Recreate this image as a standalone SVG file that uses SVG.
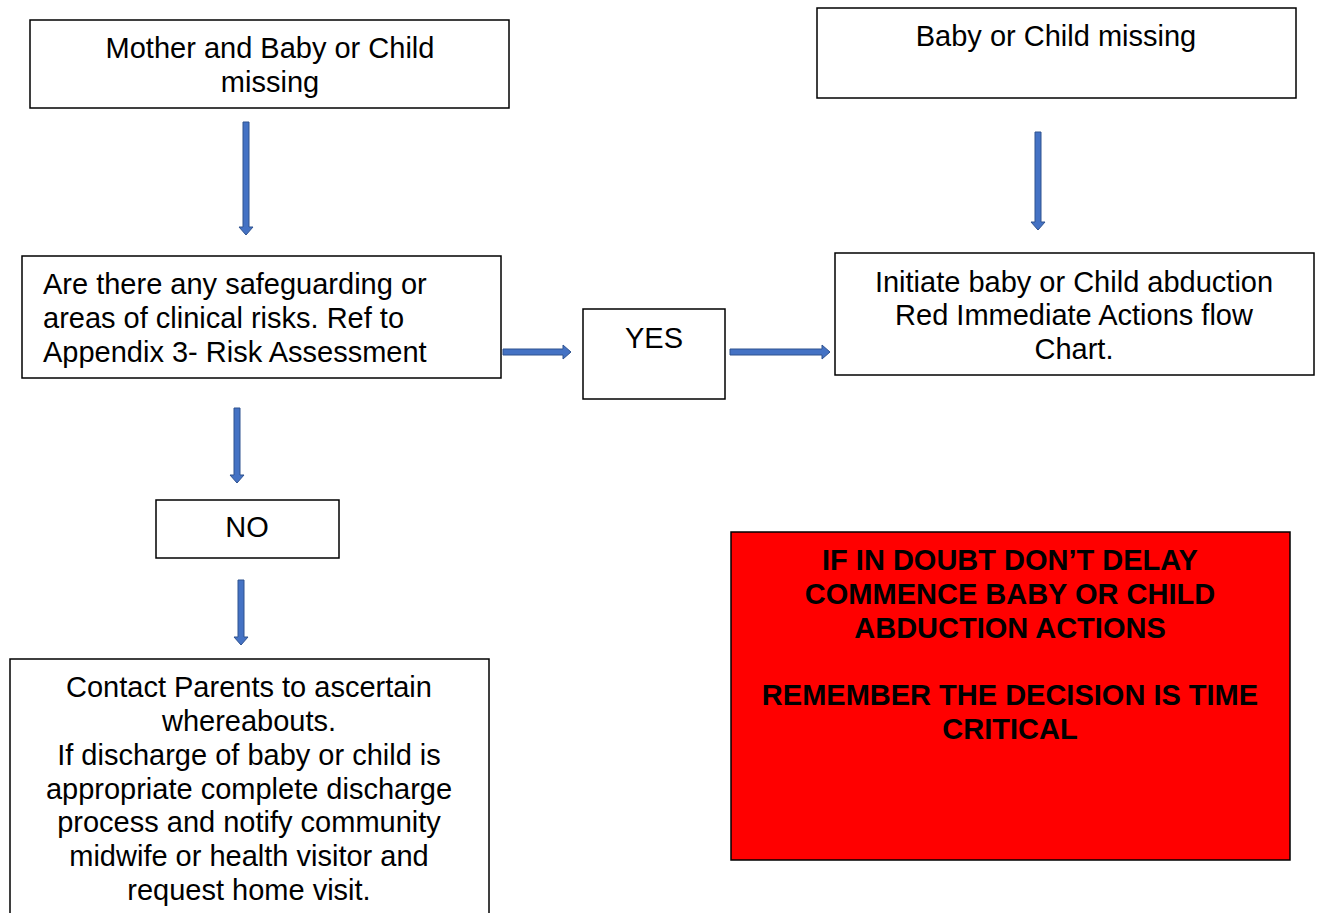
<svg xmlns="http://www.w3.org/2000/svg" width="1322" height="913" viewBox="0 0 1322 913">
<style>
.box{fill:#fff;stroke:#000;stroke-width:1.5}
.red{fill:#ff0000;stroke:#000;stroke-width:1.5}
.t{font-family:"Liberation Sans",Arial,sans-serif;font-size:29px;fill:#000}
.c{text-anchor:middle}
.b{font-weight:bold}
.arr{fill:#4472c4;stroke:#2f528f;stroke-width:1}
</style>
<rect width="1322" height="913" fill="#fff"/>
<g id="connectors">
<polygon class="arr" points="243,122 249,122 249,227 253,227 246,235 239,227 243,227"/>
<polygon class="arr" points="1035,132 1041,132 1041,222 1045,222 1038,230 1031,222 1035,222"/>
<polygon class="arr" points="234,408 240,408 240,475 244,475 237,483 230,475 234,475"/>
<polygon class="arr" points="238,580 244,580 244,637 248,637 241,645 234,637 238,637"/>
<polygon class="arr" points="503,349 563,349 563,345 571,352 563,359 563,355 503,355"/>
<polygon class="arr" points="730,349 822,349 822,345 830,352 822,359 822,355 730,355"/>
</g>
<g id="n1"><rect class="box" x="30" y="20" width="479" height="88"/>
<text class="t c" x="270" y="58">Mother and Baby or Child</text>
<text class="t c" x="270" y="92">missing</text></g>
<g id="n2"><rect class="box" x="817" y="8" width="479" height="90"/>
<text class="t c" x="1056" y="46">Baby or Child missing</text></g>
<g id="n3"><rect class="box" x="22" y="256" width="479" height="122"/>
<text class="t" x="43" y="294">Are there any safeguarding or</text>
<text class="t" x="43" y="328">areas of clinical risks. Ref to</text>
<text class="t" x="43" y="362">Appendix 3- Risk Assessment</text></g>
<g id="n4"><rect class="box" x="583" y="309" width="142" height="90"/>
<text class="t c" x="654" y="348">YES</text></g>
<g id="n5"><rect class="box" x="835" y="253" width="479" height="122"/>
<text class="t c" x="1074" y="292">Initiate baby or Child abduction</text>
<text class="t c" x="1074" y="325">Red Immediate Actions flow</text>
<text class="t c" x="1074" y="359">Chart.</text></g>
<g id="n6"><rect class="box" x="156" y="500" width="183" height="58"/>
<text class="t c" x="247" y="537">NO</text></g>
<g id="n7"><rect class="box" x="10" y="659" width="479" height="270"/>
<text class="t c" x="249" y="697">Contact Parents to ascertain</text>
<text class="t c" x="249" y="731">whereabouts.</text>
<text class="t c" x="249" y="765">If discharge of baby or child is</text>
<text class="t c" x="249" y="799">appropriate complete discharge</text>
<text class="t c" x="249" y="832">process and notify community</text>
<text class="t c" x="249" y="866">midwife or health visitor and</text>
<text class="t c" x="249" y="900">request home visit.</text></g>
<g id="n8"><rect class="red" x="731" y="532" width="559" height="328"/>
<text class="t c b" x="1010" y="570">IF IN DOUBT DON’T DELAY</text>
<text class="t c b" x="1010" y="604">COMMENCE BABY OR CHILD</text>
<text class="t c b" x="1010" y="638">ABDUCTION ACTIONS</text>
<text class="t c b" x="1010" y="705">REMEMBER THE DECISION IS TIME</text>
<text class="t c b" x="1010" y="739">CRITICAL</text></g>
</svg>
